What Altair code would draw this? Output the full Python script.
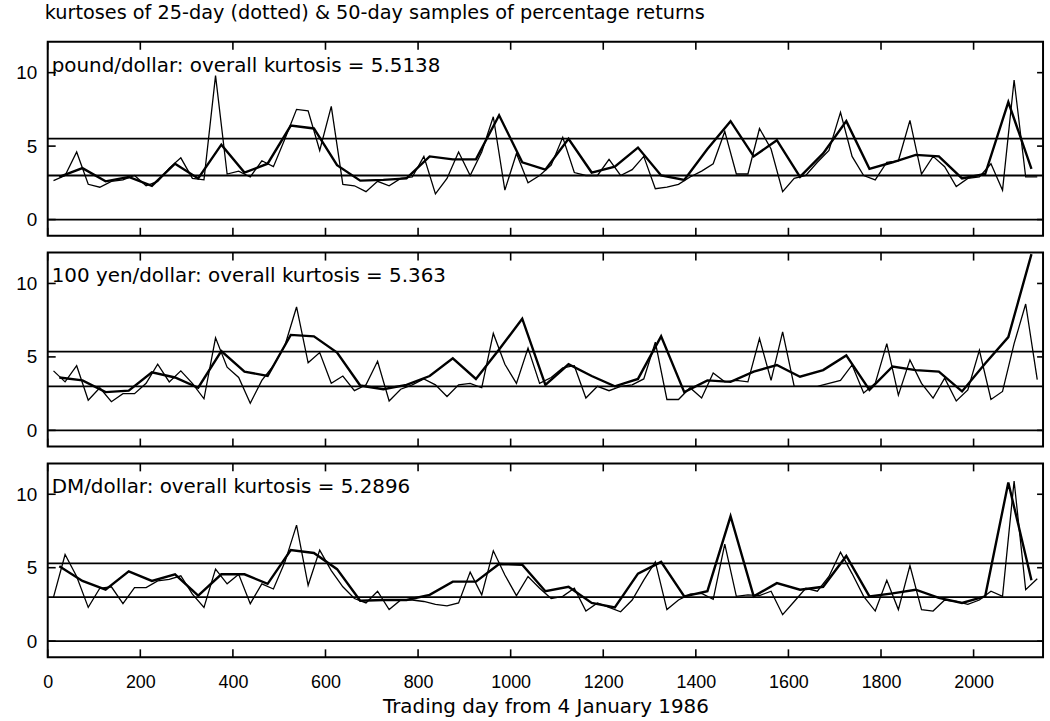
import altair as alt
import pandas as pd

# ---------------- data ----------------
TITLE = "kurtoses of 25-day (dotted) & 50-day samples of percentage returns"
X_TITLE = "Trading day from 4 January 1986"
PAIRS = ["pound/dollar", "100 yen/dollar", "DM/dollar"]
KURT = [5.5138, 5.363, 5.2896]
KURT_TEXT = ["5.5138", "5.363", "5.2896"]
X_TICKS = [0, 200, 400, 600, 800, 1000, 1200, 1400, 1600, 1800, 2000]
Y_TICKS = [0, 5, 10]
REF_LEVEL = 3  # kurtosis of a normal distribution

# sample mid-days: 86 samples of 25 days and 43 samples of 50 days
DAYS_25 = [12.5 + 25 * i for i in range(86)]
DAYS_50 = [25 + 50 * j for j in range(43)]

POUND_25 = [2.65, 3.0, 4.6, 2.4, 2.2, 2.6, 2.7, 3.0, 2.3, 2.6, 3.5, 4.2, 2.8, 2.7, 9.8, 3.1, 3.3, 2.9, 4.0, 3.6,
            5.5, 7.5, 7.4, 4.7, 7.7,
            2.4, 2.3, 1.9, 2.6, 2.3, 2.8, 2.9, 4.3, 1.75, 2.8, 4.6, 3.0, 4.6, 7.0, 2.0, 4.5, 2.5, 3.0, 3.7, 5.6,
            3.2, 3.0, 3.0, 4.1, 3.0, 3.4, 4.3, 2.1, 2.2, 2.4,
            2.9, 3.3, 3.8, 6.0, 3.1, 3.1, 6.2, 4.8, 1.9, 2.8, 3.0, 3.9, 4.7, 7.3, 4.3, 3.0, 2.7, 3.9, 4.0, 6.75,
            3.1, 4.3, 3.6, 2.25, 2.8, 2.9, 3.8, 2.0, 9.5, 2.9, 2.9]
POUND_50 = [2.9, 3.5, 2.6, 2.9, 2.3, 3.8, 2.8, 5.1, 3.2, 3.8, 6.4, 6.2,
            3.7, 2.65, 2.7, 2.8, 4.3, 4.1, 4.1, 7.1, 3.9, 3.4, 5.5, 3.2, 3.6, 4.9, 3.0, 2.7,
            4.8, 6.7, 4.3, 5.4, 2.9, 4.5, 6.7, 3.45, 3.9, 4.4, 4.3, 2.8, 3.1, 8.0, 3.45]

YEN_25 = [4.05, 3.3, 4.4, 2.05, 2.9, 1.95, 2.5, 2.5, 3.2, 4.5, 3.3, 4.05, 3.2, 2.15, 6.3, 4.3, 3.6, 1.85, 3.4, 4.4,
          5.8, 8.4, 4.6, 5.3, 3.2,
          3.7, 2.7, 3.1, 4.7, 2.0, 2.8, 3.1, 3.5, 3.1, 2.3, 3.1, 3.2, 2.9, 6.6, 4.5, 3.2, 5.6, 3.2, 3.6, 4.25,
          4.4, 2.2, 3.0, 2.7, 3.0, 3.1, 3.5, 6.0, 2.1, 2.1,
          2.9, 2.2, 3.9, 3.3, 3.4, 3.3, 6.25, 3.4, 6.7, 3.0, 3.0, 3.0, 3.2, 3.4, 4.45, 2.55, 3.2, 5.9, 2.4, 4.8,
          3.2, 2.2, 3.55, 2.0, 2.75, 5.45, 2.1, 2.65, 5.9, 8.6, 3.45]
YEN_50 = [3.6, 3.4, 2.6, 2.7, 3.95, 3.6, 2.9, 5.4, 4.0, 3.7, 6.5, 6.4, 5.3,
          3.05, 2.8, 3.1, 3.7, 4.9, 3.5, 5.5, 7.6, 3.1, 4.5, 3.7, 3.0, 3.5, 6.4, 2.6,
          3.4, 3.3, 4.0, 4.45, 3.65, 4.1, 5.1, 2.75, 4.35, 4.1, 4.0, 2.65, 4.55, 6.35, 12.0]

DM_25 = [3.0, 5.9, 4.4, 2.3, 3.6, 3.7, 2.55, 3.65, 3.65, 4.1, 4.2, 4.45, 3.2, 2.3, 4.9, 3.9, 4.55, 2.55, 3.9, 3.55,
         5.4, 7.9, 3.8, 6.2, 4.8,
         3.7, 2.9, 2.6, 3.4, 2.15, 2.8, 2.8, 2.7, 2.5, 2.4, 2.6, 4.7, 3.15, 6.15, 4.5, 3.1, 4.4, 3.6, 2.9, 3.05,
         3.6, 2.05, 2.6, 2.3, 2.0, 2.8, 4.15, 5.4, 2.15, 2.8,
         3.2, 3.25, 2.85, 6.6, 3.05, 3.15, 3.1, 3.4, 1.8, 2.7, 3.6, 3.4, 4.4, 6.05, 4.6, 3.05, 2.05, 4.15, 2.15, 5.15,
         2.15, 2.05, 2.8, 2.7, 2.5, 2.8, 3.4, 3.05, 10.9, 3.5, 4.25]
DM_50 = [5.1, 4.1, 3.5, 4.75, 4.1, 4.55, 3.1, 4.55, 4.55, 3.9, 6.2, 6.0, 4.9, 2.75,
         2.8, 2.8, 3.15, 4.05, 4.05, 5.25, 5.2, 3.4, 3.7, 2.6, 2.3, 4.6, 5.4, 3.05,
         3.4, 8.5, 3.05, 3.95, 3.5, 3.7, 5.8, 3.05, 3.25, 3.5, 2.95, 2.6, 3.05, 10.8, 4.15]

SERIES = [(POUND_25, POUND_50), (YEN_25, YEN_50), (DM_25, DM_50)]

# ---------------- chart ----------------
W, H = 1001, 195
XS = alt.Scale(domain=[0, 2150], nice=False, zero=False)
YS = alt.Scale(domain=[-1.1, 12.1], nice=False, zero=False)
LABEL_FONT = "Liberation Sans"
TEXT_FONT = "DejaVu Sans"


def make_panel(idx, bottom):
    thin, thick = SERIES[idx]
    ref = pd.DataFrame({"v": [0, REF_LEVEL, KURT[idx]]})
    if bottom:
        xaxis = alt.Axis(values=X_TICKS, format="d", ticks=False, domain=False, grid=False,
                         labelFlush=False, labelPadding=16, labelFont=LABEL_FONT, labelFontSize=18,
                         labelColor="black", title=X_TITLE, titleFont=TEXT_FONT, titleFontSize=20,
                         titleFontWeight="normal", titleColor="black", titlePadding=6)
    else:
        xaxis = None
    yaxis = alt.Axis(values=Y_TICKS, ticks=False, domain=False, grid=False, labelPadding=11,
                     labelFont=LABEL_FONT, labelFontSize=19, labelColor="black", title=None)

    def X(field):
        return alt.X(field, scale=XS, axis=xaxis)

    def Y(field):
        return alt.Y(field, scale=YS, axis=yaxis)

    rules = alt.Chart(ref).mark_rule(color="black", strokeWidth=1.8).encode(y=Y("v:Q"))

    xt = pd.DataFrame({"t": X_TICKS})
    top_ticks = alt.Chart(xt).mark_rule(color="black", strokeWidth=1.6).encode(
        x=X("t:Q"), y=alt.value(0), y2=alt.value(8))
    bot_ticks = alt.Chart(xt).mark_rule(color="black", strokeWidth=1.6).encode(
        x=X("t:Q"), y=alt.value(H - 8), y2=alt.value(H))

    yt = pd.DataFrame({"v": Y_TICKS})
    left_ticks = alt.Chart(yt).mark_rule(color="black", strokeWidth=1.6).encode(
        y=Y("v:Q"), x=alt.value(0), x2=alt.value(8))
    right_ticks = alt.Chart(yt).mark_rule(color="black", strokeWidth=1.6).encode(
        y=Y("v:Q"), x=alt.value(W - 6), x2=alt.value(W))

    d25 = pd.DataFrame({"day": DAYS_25, "k": thin})
    d50 = pd.DataFrame({"day": DAYS_50, "k": thick})
    l25 = alt.Chart(d25).mark_line(color="black", strokeWidth=1.3, clip=True).encode(
        x=X("day:Q"), y=Y("k:Q"))
    l50 = alt.Chart(d50).mark_line(color="black", strokeWidth=2.4, clip=True).encode(
        x=X("day:Q"), y=Y("k:Q"))

    lab = pd.DataFrame({"label": [f"{PAIRS[idx]}: overall kurtosis = {KURT_TEXT[idx]}"]})
    text = alt.Chart(lab).mark_text(align="left", baseline="middle", font=TEXT_FONT, fontSize=20,
                                    color="black").encode(
        text="label:N", x=alt.value(4), y=alt.value(24))

    layers = [rules, top_ticks, bot_ticks, left_ticks, right_ticks, l25, l50, text]
    if idx == 0:
        ttl = pd.DataFrame({"label": [TITLE]})
        layers.append(alt.Chart(ttl).mark_text(align="left", baseline="middle", font=TEXT_FONT,
                                               fontSize=19.4, color="black").encode(
            text="label:N", x=alt.value(-3), y=alt.value(-29)))
    return alt.layer(*layers).properties(width=W, height=H)


chart = alt.vconcat(make_panel(0, False), make_panel(1, False), make_panel(2, True), spacing=13).properties(
    padding={"left": 14, "top": 0, "right": 5, "bottom": 0},
    background="white",
).configure_view(stroke="black", strokeWidth=2)

chart.save("out.html", embed_options={"renderer": "svg", "actions": False})
